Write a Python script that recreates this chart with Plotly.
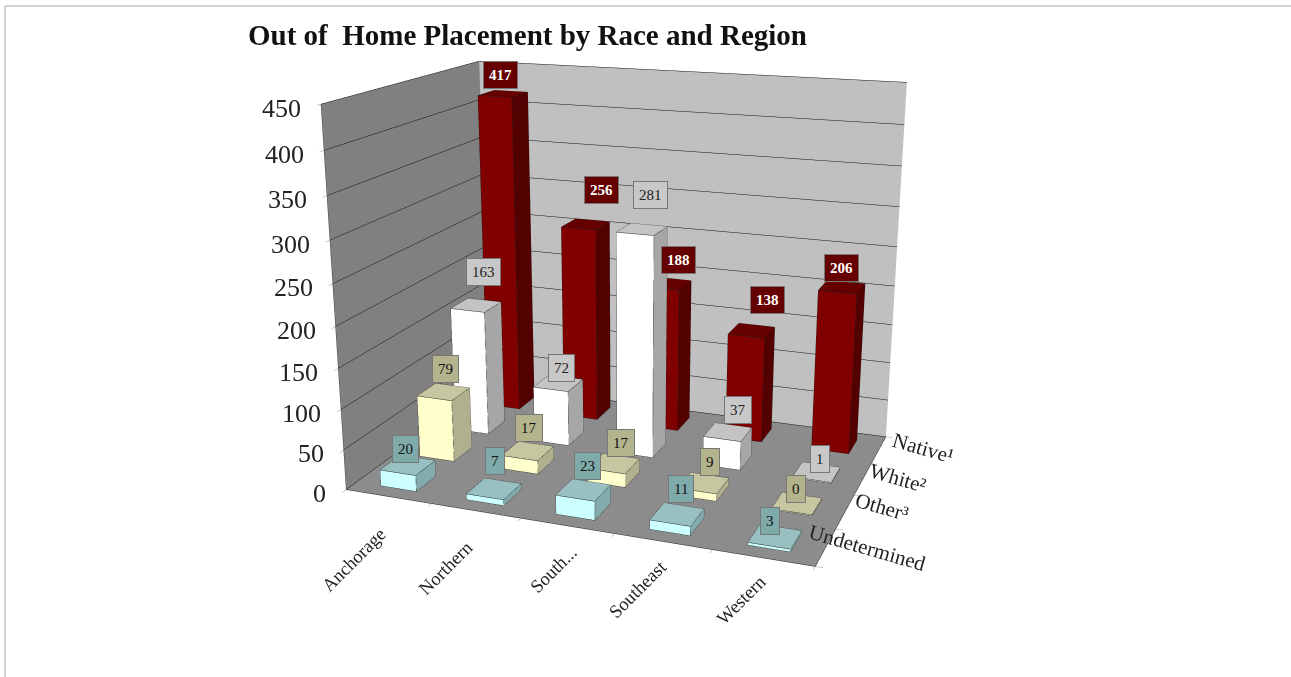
import plotly.graph_objects as go

regions = ["Anchorage", "Northern", "South...", "Southeast", "Western"]
series = ["Undetermined", "Other³", "White²", "Native¹"]
undetermined = [20, 7, 23, 11, 3]
other = [79, 17, 17, 9, 0]
white = [163, 72, 281, 37, 1]
native = [417, 256, 188, 138, 206]
z_ticks = [0, 50, 100, 150, 200, 250, 300, 350, 400, 450]

values = [undetermined, other, white, native]
face_cols = ["#CCFFFF", "#FFFFCC", "#FFFFFF", "#800000"]
top_cols = ["#99C0C0", "#C6C6A0", "#C4C4C4", "#660000"]
side_cols = ["#84ABAB", "#B0B08E", "#A6A6A6", "#520000"]
lab_bg = ["#7FAAAA", "#B4B48C", "#C8C8C8", "#660000"]
lab_fg = ["#111111", "#111111", "#222222", "#FFFFFF"]

# pixel nudges of the value labels, per series and region (style only)
label_dx = [[-2, 1, 4, 4, -5], [2, 1, 7, 6, -1], [7, 3, 8, 10, 3], [-3, 16, 11, 16, 0]]
label_up = [[16, 28, 24, 25, 16], [23, 23, 21, 21, 14], [33, 15, 34, 22, 13], [19, 34, 24, 31, 19]]
region_dx = [-35, -30, -14, -25, -22]
region_up = [-63, -57, -44, -47, -42]
series_dx = [42, 37, 35, 44]
series_up = [-1, 5, 1, 2]

H = 1200
TOP = 262

BW, BD = 0.42, 0.5
fig = go.Figure()
ex, ey, ez = [], [], []
ann = []
for s, row in enumerate(values):
    for r, v in enumerate(row):
        h = max(v, 1.0)
        x0, x1 = r - BW / 2, r + BW / 2
        y0, y1 = s - BD / 2, s + BD / 2
        xs = [x0, x1, x1, x0, x0, x1, x1, x0]
        ys = [y0, y0, y1, y1, y0, y0, y1, y1]
        zs = [0, 0, 0, 0, h, h, h, h]
        i = [0, 0, 1, 1, 4, 4, 3, 3, 0, 0, 3, 3]
        j = [1, 5, 2, 6, 5, 6, 2, 6, 3, 7, 2, 1]
        k = [5, 4, 6, 5, 6, 7, 6, 7, 7, 4, 1, 0]
        fc = [face_cols[s]] * 2 + [side_cols[s]] * 2 + [top_cols[s]] * 2 + [top_cols[s]] * 2 + [side_cols[s]] * 2 + [top_cols[s]] * 2
        fig.add_trace(go.Mesh3d(x=xs, y=ys, z=zs, i=i, j=j, k=k, facecolor=fc, flatshading=True,
                                lighting=dict(ambient=1, diffuse=0, specular=0, roughness=1, fresnel=0),
                                hoverinfo="skip", showscale=False))
        for a, b in [(0, 1), (1, 2), (2, 3), (3, 0), (4, 5), (5, 6), (6, 7), (7, 4), (0, 4), (1, 5), (2, 6), (3, 7)]:
            ex += [xs[a], xs[b], None]
            ey += [ys[a], ys[b], None]
            ez += [zs[a], zs[b], None]
        ann.append(dict(x=r, y=s, z=h, text=f"<b>{v}</b>" if s == 3 else str(v), showarrow=False,
                        xshift=label_dx[s][r], yshift=label_up[s][r], bgcolor=lab_bg[s],
                        bordercolor="#777777", borderwidth=1, borderpad=5,
                        font=dict(family="Liberation Serif", size=15, color=lab_fg[s])))

fig.add_trace(go.Scatter3d(x=ex, y=ey, z=ez, mode="lines", line=dict(color="#222222", width=1),
                           hoverinfo="skip", showlegend=False))

axis_text = "#222222"
for r, name in enumerate(regions):
    ann.append(dict(x=r, y=-0.5, z=0, text=name, showarrow=False, textangle=-45, xshift=region_dx[r], yshift=region_up[r],
                    font=dict(family="Liberation Serif", size=18.5, color=axis_text)))
for s, name in enumerate(series):
    ann.append(dict(x=4.5, y=s, z=0, text=name, showarrow=False, textangle=16, xshift=series_dx[s], yshift=series_up[s],
                    font=dict(family="Liberation Serif", size=21, color=axis_text)))
for t in z_ticks:
    ann.append(dict(x=-0.5, y=-0.5, z=t, text=str(t), showarrow=False, xanchor="right", xshift=-18, yshift=-4,
                    font=dict(family="Liberation Serif", size=26, color=axis_text)))

x_bounds = [r - 0.5 for r in range(len(regions) + 1)]
y_bounds = [s - 0.5 for s in range(len(series) + 1)]
yt = 1 - (6 + TOP) / H
fig.update_layout(
    width=1291, height=H, paper_bgcolor="white", margin=dict(l=0, r=0, t=0, b=0), showlegend=False,
    title=dict(text="<b>Out of  Home Placement by Race and Region</b>", x=248 / 1291, xanchor="left",
               y=1 - (35 + TOP) / H, yanchor="middle", font=dict(family="Liberation Serif", size=29, color="#111111")),
    shapes=[dict(type="line", xref="paper", yref="paper", x0=5 / 1291, x1=1, y0=yt, y1=yt,
                 line=dict(color="#A6A6A6", width=1)),
            dict(type="line", xref="paper", yref="paper", x0=5 / 1291, x1=5 / 1291, y0=0, y1=yt,
                 line=dict(color="#A6A6A6", width=1))],
    scene=dict(
        domain=dict(x=[0, 0.973], y=[0, 1]),
        aspectmode="manual", aspectratio=dict(x=1.28, y=0.88, z=1.03),
        camera=dict(eye=dict(x=1.31, y=-3.51, z=1.07), center=dict(x=0, y=0, z=-0.15), up=dict(x=0, y=0, z=1),
                    projection=dict(type="perspective")),
        xaxis=dict(title="", range=[-0.5, 4.5], tickmode="array", tickvals=x_bounds, showticklabels=False,
                   showgrid=False, showbackground=True,
                   backgroundcolor="#808080", showline=True, linecolor="#222222", ticks="outside", ticklen=6,
                   tickcolor="#999999", zeroline=False, showspikes=False),
        yaxis=dict(title="", range=[-0.5, 3.5], tickmode="array", tickvals=y_bounds, showticklabels=False,
                   showgrid=False, showbackground=True,
                   backgroundcolor="#C0C0C0", showline=True, linecolor="#222222", ticks="outside", ticklen=6,
                   tickcolor="#999999", zeroline=False, showspikes=False),
        zaxis=dict(title="", range=[0, 450], tickmode="array", tickvals=z_ticks, showticklabels=False,
                   showgrid=True, gridcolor="#111111", gridwidth=1,
                   showbackground=True, backgroundcolor="#8C8C8C", showline=True, linecolor="#444444",
                   ticks="outside", ticklen=6, tickcolor="#999999", zeroline=False, showspikes=False),
        annotations=ann,
    ),
)
fig.write_html("out.html", config=dict(displayModeBar=False),
               post_script=f"document.body.style.margin='0';document.body.style.overflow='hidden';"
                           f"document.documentElement.style.overflow='hidden';"
                           f"document.querySelector('.plotly-graph-div').style.marginTop='-{TOP}px';")
